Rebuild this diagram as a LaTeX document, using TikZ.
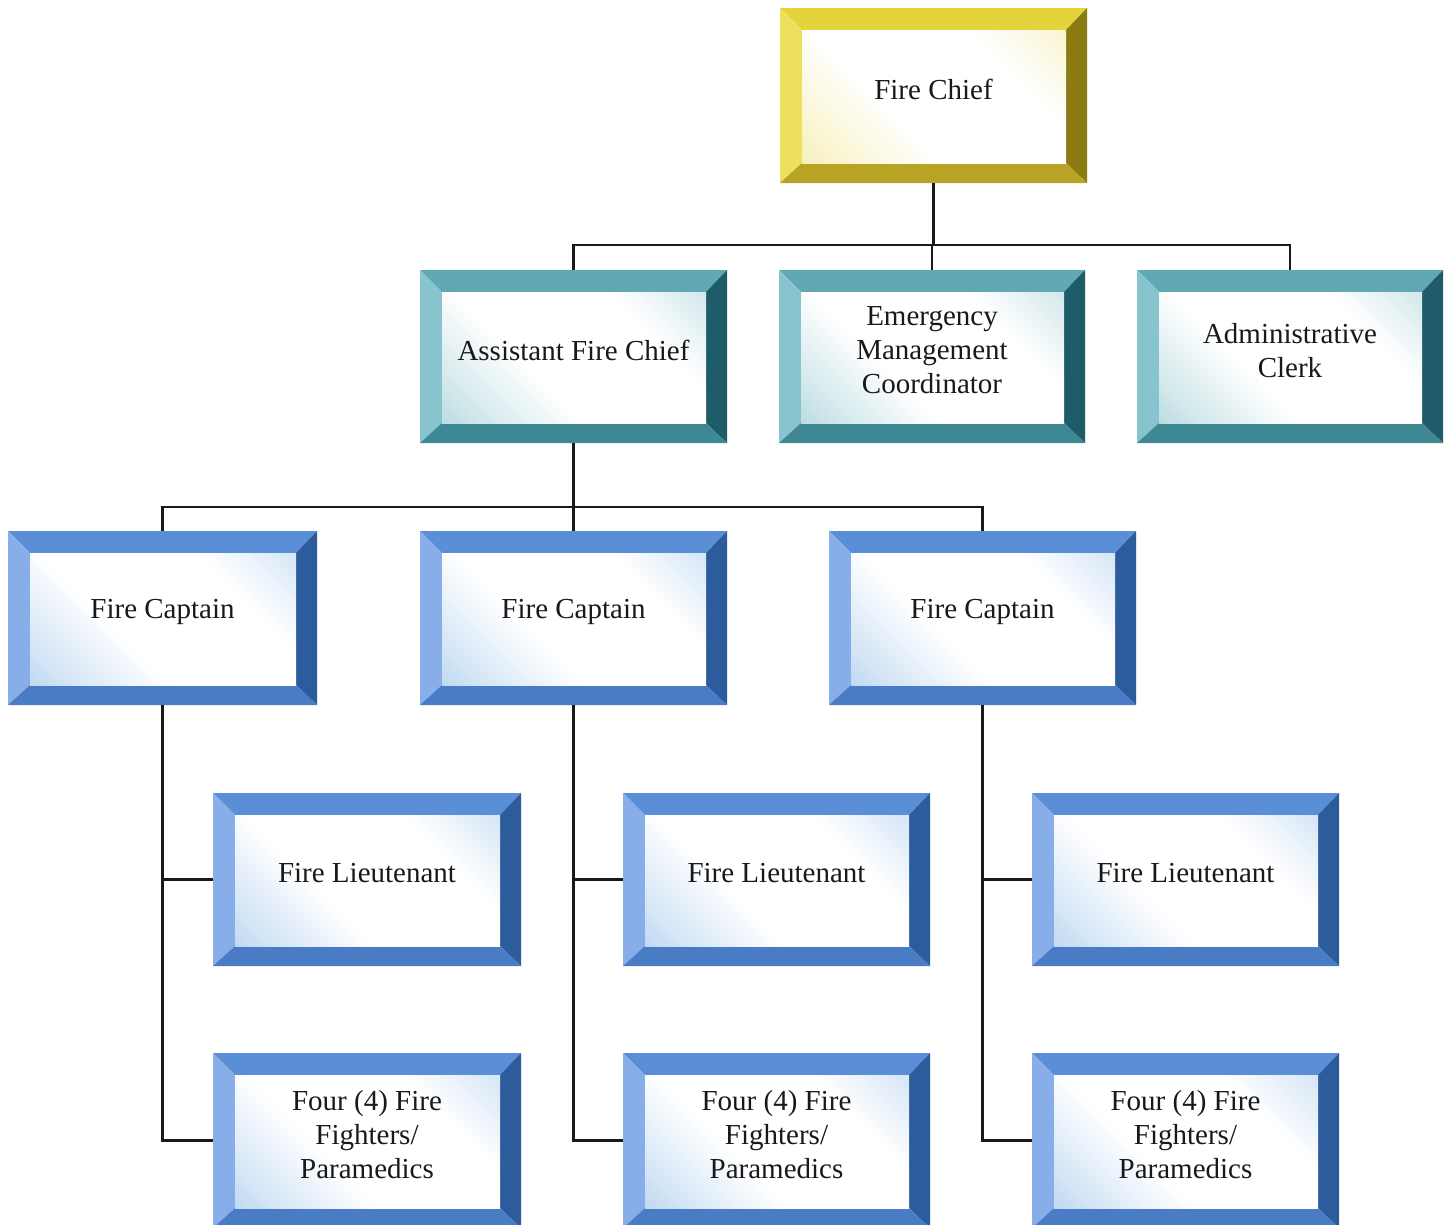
\documentclass[tikz,border=0pt]{standalone}
\usepackage{fontspec}
\setmainfont{Liberation Serif}
\definecolor{ylwT}{HTML}{E4D33A}
\definecolor{ylwL}{HTML}{EEDF5C}
\definecolor{ylwR}{HTML}{8A7B12}
\definecolor{ylwB}{HTML}{B8A324}
\definecolor{ylwI}{HTML}{EEE27A}
\definecolor{tealT}{HTML}{5FA8B4}
\definecolor{tealL}{HTML}{88C4CD}
\definecolor{tealR}{HTML}{1F5C69}
\definecolor{tealB}{HTML}{3E8893}
\definecolor{tealI}{HTML}{7EBCC6}
\definecolor{bluT}{HTML}{5A8ED6}
\definecolor{bluL}{HTML}{88AEEA}
\definecolor{bluR}{HTML}{2C5C9C}
\definecolor{bluB}{HTML}{4A7CC6}
\definecolor{bluI}{HTML}{86B6E6}
\pgfdeclarehorizontalshading{bevshade-ylw}{100bp}{color(0bp)=(ylwI!85!white); color(22bp)=(ylwI!35!white); color(40bp)=(white); color(68bp)=(white); color(88bp)=(ylwI!40!white); color(100bp)=(ylwI!75!white)}
\pgfdeclarehorizontalshading{bevshade-teal}{100bp}{color(0bp)=(tealI!85!white); color(22bp)=(tealI!35!white); color(40bp)=(white); color(68bp)=(white); color(88bp)=(tealI!40!white); color(100bp)=(tealI!75!white)}
\pgfdeclarehorizontalshading{bevshade-blu}{100bp}{color(0bp)=(bluI!85!white); color(22bp)=(bluI!35!white); color(40bp)=(white); color(68bp)=(white); color(88bp)=(bluI!40!white); color(100bp)=(bluI!75!white)}
\newcommand{\bevbox}[7]{%
  \fill[#6T] (#2,#3) -- (#4,#3) -- (#4-21,#3+22) -- (#2+22,#3+22) -- cycle;
  \fill[#6L] (#2,#3) -- (#2+22,#3+22) -- (#2+22,#5-20) -- (#2,#5) -- cycle;
  \fill[#6R] (#4,#3) -- (#4,#5) -- (#4-21,#5-20) -- (#4-21,#3+22) -- cycle;
  \fill[#6B] (#2,#5) -- (#2+22,#5-20) -- (#4-21,#5-20) -- (#4,#5) -- cycle;
  \shade[shading=bevshade-#6, shading angle=45] (#2+22,#3+22) rectangle (#4-21,#5-20);
  \node[boxn, minimum width={(#4-#2)*1pt}, minimum height={(#5-#3)*1pt}] (#1) at ({(#2+#4)/2},{(#3+#5)/2}) {};
  \node[txt] (#1-t) at ({(#2+#4)/2},{(#3+#5)/2-6}) {#7};
}
\tikzset{
  boxn/.style={rectangle, draw=none, inner sep=0pt, outer sep=0pt},
  txt/.style={align=center, inner sep=0pt, font=\fontsize{29}{34}\selectfont, text=black!90},
  conn/.style={draw=black!90, line width=2.2pt}
}
\begin{document}
\begin{tikzpicture}[x=1pt, y=-1pt]
\useasboundingbox[fill=white] (0,0) rectangle (1451,1224);
\clip (0,0) rectangle (1451,1224);
\bevbox{chief}{780}{8}{1087}{183}{ylw}{Fire Chief}
\bevbox{asst}{420}{270}{727}{443}{teal}{Assistant Fire Chief}
\bevbox{emerg}{779}{270}{1085}{443}{teal}{Emergency\\Management\\Coordinator}
\bevbox{clerk}{1137}{270}{1443}{443}{teal}{Administrative\\Clerk}
\bevbox{capA}{8}{531}{317}{705}{blu}{Fire Captain}
\bevbox{capB}{420}{531}{727}{705}{blu}{Fire Captain}
\bevbox{capC}{829}{531}{1136}{705}{blu}{Fire Captain}
\bevbox{ltA}{213}{793}{521}{966}{blu}{Fire Lieutenant}
\bevbox{ltB}{623}{793}{930}{966}{blu}{Fire Lieutenant}
\bevbox{ltC}{1032}{793}{1339}{966}{blu}{Fire Lieutenant}
\bevbox{ffA}{213}{1053}{521}{1228}{blu}{Four (4) Fire\\Fighters/\\Paramedics}
\bevbox{ffB}{623}{1053}{930}{1228}{blu}{Four (4) Fire\\Fighters/\\Paramedics}
\bevbox{ffC}{1032}{1053}{1339}{1228}{blu}{Four (4) Fire\\Fighters/\\Paramedics}
% connectors
\coordinate (j1) at (chief.south |- 0,245);
\draw[conn] (chief.south) -- (j1);
\draw[conn] (asst.north) -- (asst.north |- j1) -- (clerk.north |- j1) -- (clerk.north);
\draw[conn] (emerg.north) -- (emerg.north |- j1);
\coordinate (j2) at (asst.south |- 0,507);
\draw[conn] (asst.south) -- (j2);
\draw[conn] (capA.north) -- (capA.north |- j2) -- (capC.north |- j2) -- (capC.north);
\draw[conn] (capB.north) -- (capB.north |- j2);
\draw[conn] (capA.south) |- (ffA.west);
\draw[conn] (ltA.west) -- (capA.south |- ltA.west);
\draw[conn] (capB.south) |- (ffB.west);
\draw[conn] (ltB.west) -- (capB.south |- ltB.west);
\draw[conn] (capC.south) |- (ffC.west);
\draw[conn] (ltC.west) -- (capC.south |- ltC.west);
\end{tikzpicture}
\end{document}
